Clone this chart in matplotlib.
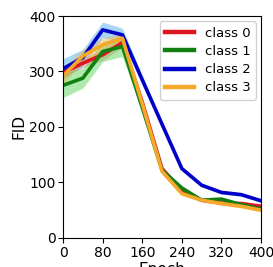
import matplotlib
matplotlib.use('Agg')
import matplotlib.pyplot as plt
import numpy as np

epochs = [0, 40, 80, 120, 160, 200, 240, 280, 320, 360, 400]

fid_class0 = [298, 315, 330, 352, 245, 125, 84, 68, 63, 62, 57]
fid_class1 = [275, 288, 336, 345, 235, 122, 90, 68, 70, 60, 52]
fid_class2 = [305, 325, 375, 366, 285, 205, 125, 95, 82, 78, 67]
fid_class3 = [292, 328, 348, 360, 242, 120, 80, 68, 62, 57, 50]

sd_class0 = [8, 8, 10, 8, 6, 5, 4, 3, 3, 3, 3]
sd_class1 = [22, 18, 18, 18, 8, 5, 4, 3, 3, 3, 3]
sd_class2 = [18, 15, 14, 12, 8, 5, 4, 3, 3, 3, 3]
sd_class3 = [14, 12, 12, 10, 8, 5, 4, 3, 3, 3, 3]

labels = ['class 0', 'class 1', 'class 2', 'class 3']
means = [fid_class0, fid_class1, fid_class2, fid_class3]
sds = [sd_class0, sd_class1, sd_class2, sd_class3]
line_colors = ['#e0141e', '#118011', '#0000c8', '#f5a82a']
band_colors = ['#f08080', '#4cd24c', '#3aa8f0', '#f5b040']

fig = plt.figure(figsize=(2.73, 2.67), dpi=100)
ax = fig.add_axes([0.231, 0.109, 0.725, 0.831])

for m, s, lab, lc, bc in zip(means, sds, labels, line_colors, band_colors):
    m = np.array(m); s = np.array(s)
    ax.fill_between(epochs, m - s, m + s, color=bc, alpha=0.45, lw=0)
    ax.plot(epochs, m, color=lc, lw=2.6, label=lab)

ax.set_xlim(0, 400); ax.set_ylim(0, 400)
ax.set_xticks(range(0, 401, 80))
ax.set_yticks(range(0, 401, 100))
ax.tick_params(labelsize=10, length=3.5, pad=2)
ax.set_ylabel('FID', fontsize=11, labelpad=2)
# the reference shows this label clipped by the bottom edge
ax.set_xlabel('Epoch', fontsize=11, labelpad=2)

leg = ax.legend(loc='upper right', fontsize=9.5, handlelength=2.2, borderpad=0.4,
                labelspacing=0.4, handletextpad=0.8, framealpha=0.9,
                borderaxespad=0.4)
for h in leg.get_lines():
    h.set_linewidth(3.2)

fig.savefig('out.png', dpi=100, facecolor='white')
